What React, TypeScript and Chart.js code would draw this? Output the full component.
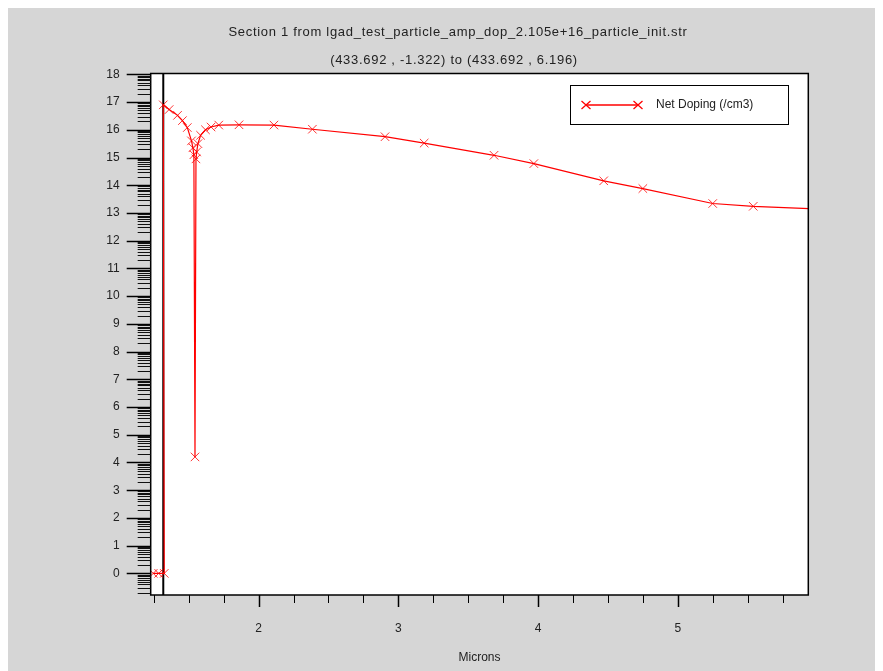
import React, { useEffect, useRef } from "react";
import { Chart, registerables } from "chart.js";

Chart.register(...registerables);

const titleText = "Section 1 from lgad_test_particle_amp_dop_2.105e+16_particle_init.str";
const subtitleText = "(433.692 , -1.322) to (433.692 , 6.196)";
const xAxisTitle = "Microns";
const seriesName = "Net Doping (/cm3)";

// Position along the section (microns)
const xValues = [
  1.246, 1.285, 1.325, 1.318, 1.36, 1.42, 1.455, 1.49, 1.52, 1.53, 1.537, 1.545,
  1.552, 1.557, 1.566, 1.585, 1.62, 1.66, 1.715, 1.86, 2.11, 2.385, 2.905, 3.185,
  3.685, 3.97, 4.47, 4.75, 5.25, 5.54, 6.2,
];
// log10 of |Net Doping|
const yValues = [
  0, 0, 0, 16.9, 16.73, 16.52, 16.33, 16.08, 15.6, 15.35, 15.1, 4.2,
  14.95, 15.2, 15.5, 15.8, 16.0, 16.1, 16.17, 16.18, 16.17, 16.02, 15.75, 15.52,
  15.08, 14.78, 14.16, 13.88, 13.34, 13.24, 13.1,
];

const boundaryX = [1.318, 1.318];
const boundaryY = [-2, 20];

const xMajorTicks = [2, 3, 4, 5];
const xMinorTicks = [1.25, 1.5, 1.75, 2.25, 2.5, 2.75, 3.25, 3.5, 3.75, 4.25, 4.5, 4.75, 5.25, 5.5, 5.75];
const yMajorTicks = [0, 1, 2, 3, 4, 5, 6, 7, 8, 9, 10, 11, 12, 13, 14, 15, 16, 17, 18];
const decadeSubTicks = [2, 3, 4, 5, 6, 7, 8, 9];

const FONT = "'Liberation Sans', Arial, sans-serif";

export default function App() {
  const ref = useRef<HTMLCanvasElement | null>(null);

  useEffect(() => {
    const canvas = ref.current;
    if (!canvas) return;

    const decorPlugin = {
      id: "decor",
      beforeDraw(chart: any) {
        const { ctx, chartArea: a } = chart;
        ctx.save();
        ctx.fillStyle = "#d6d6d6";
        ctx.fillRect(0, 0, chart.width, chart.height);
        ctx.fillStyle = "#ffffff";
        ctx.fillRect(a.left, a.top, a.right - a.left, a.bottom - a.top);
        ctx.restore();
      },
      afterDraw(chart: any) {
        const { ctx, chartArea: a } = chart;
        const xs = chart.scales.x;
        const ys = chart.scales.y;
        ctx.save();
        // plot frame
        ctx.strokeStyle = "#000";
        ctx.lineWidth = 1.5;
        ctx.strokeRect(a.left, a.top, a.right - a.left, a.bottom - a.top);
        // y ticks
        ctx.lineWidth = 1.5;
        ctx.strokeStyle = "#000";
        yMajorTicks.forEach((v) => {
          const py = Math.round(ys.getPixelForValue(v)) + 0.5;
          ctx.beginPath();
          ctx.moveTo(a.left - 24, py);
          ctx.lineTo(a.left, py);
          ctx.stroke();
        });
        ctx.lineWidth = 1;
        ctx.strokeStyle = "#111";
        const minorVals: number[] = [];
        [-1, ...yMajorTicks].forEach((v) => {
          decadeSubTicks.forEach((k) => minorVals.push(v + Math.log10(k)));
        });
        minorVals.forEach((val) => {
          if (val > ys.max || val < ys.min) return;
          const py = Math.round(ys.getPixelForValue(val)) + 0.5;
          ctx.beginPath();
          ctx.moveTo(a.left - 13, py);
          ctx.lineTo(a.left, py);
          ctx.stroke();
        });
        // x ticks
        ctx.lineWidth = 1.5;
        ctx.strokeStyle = "#000";
        xMajorTicks.forEach((v) => {
          const px = Math.round(xs.getPixelForValue(v)) + 0.5;
          ctx.beginPath();
          ctx.moveTo(px, a.bottom);
          ctx.lineTo(px, a.bottom + 12);
          ctx.stroke();
        });
        ctx.lineWidth = 1;
        xMinorTicks.forEach((v) => {
          const px = Math.round(xs.getPixelForValue(v)) + 0.5;
          ctx.beginPath();
          ctx.moveTo(px, a.bottom);
          ctx.lineTo(px, a.bottom + 8);
          ctx.stroke();
        });
        // titles
        ctx.fillStyle = "#222";
        ctx.font = `13px ${FONT}`;
        (ctx as any).letterSpacing = "0.7px";
        ctx.textAlign = "center";
        ctx.textBaseline = "middle";
        ctx.fillText(titleText, 450, 24);
        ctx.fillText(subtitleText, 446, 52);
        (ctx as any).letterSpacing = "0px";
        // legend
        const lx = 562, ly = 77, lw = 218, lh = 39;
        ctx.fillStyle = "#fff";
        ctx.fillRect(lx, ly, lw, lh);
        ctx.strokeStyle = "#000";
        ctx.lineWidth = 1;
        ctx.strokeRect(lx + 0.5, ly + 0.5, lw, lh);
        const cy = ly + 20;
        ctx.strokeStyle = "rgb(255,0,0)";
        ctx.lineWidth = 1.3;
        ctx.beginPath();
        ctx.moveTo(lx + 16, cy);
        ctx.lineTo(lx + 68, cy);
        ctx.stroke();
        [lx + 16, lx + 68].forEach((mx) => {
          ctx.beginPath();
          ctx.moveTo(mx - 4.5, cy - 4);
          ctx.lineTo(mx + 4.5, cy + 4);
          ctx.moveTo(mx - 4.5, cy + 4);
          ctx.lineTo(mx + 4.5, cy - 4);
          ctx.stroke();
        });
        ctx.fillStyle = "#222";
        ctx.font = `12px ${FONT}`;
        ctx.textAlign = "left";
        ctx.fillText(seriesName, lx + 86, cy);
        ctx.restore();
      },
    };

    const chart = new Chart(canvas, {
      type: "line",
      data: {
        datasets: [
          {
            label: seriesName,
            data: xValues.map((x, i) => ({ x, y: yValues[i] })),
            borderColor: "rgb(255,0,0)",
            borderWidth: 1.2,
            pointStyle: "crossRot",
            pointRadius: 6,
            pointBorderColor: "rgba(255,0,0,0.8)",
            pointBorderWidth: 1,
            fill: false,
            tension: 0,
            order: 1,
          },
          {
            label: "boundary",
            data: boundaryX.map((x, i) => ({ x, y: boundaryY[i] })),
            borderColor: "#000",
            borderWidth: 2,
            pointRadius: 0,
            fill: false,
            order: 2,
          },
        ],
      },
      options: {
        responsive: false,
        animation: false,
        devicePixelRatio: 1,
        layout: { padding: { top: 65.5, right: 66.7, left: 0, bottom: 0 } },
        plugins: {
          legend: { display: false },
          title: { display: false },
          tooltip: { enabled: false },
        },
        scales: {
          x: {
            type: "linear",
            min: 1.228,
            max: 5.934,
            grid: { display: false },
            border: { display: false },
            afterBuildTicks: (s: any) => {
              s.ticks = xMajorTicks.map((v) => ({ value: v }));
            },
            afterFit: (s: any) => {
              s.height = 76;
            },
            ticks: {
              autoSkip: false,
              maxRotation: 0,
              padding: 18,
              color: "#222",
              font: { family: FONT, size: 12 },
              callback: (v: any) => String(v),
            },
            title: {
              display: true,
              text: xAxisTitle,
              color: "#222",
              font: { family: FONT, size: 12 },
              padding: { top: 0, bottom: 6 },
            },
          },
          y: {
            type: "linear",
            min: -0.78,
            max: 18.03,
            grid: { display: false },
            border: { display: false },
            afterBuildTicks: (s: any) => {
              s.ticks = yMajorTicks.map((v) => ({ value: v }));
            },
            afterFit: (s: any) => {
              s.width = 142.7;
            },
            ticks: {
              autoSkip: false,
              padding: 23,
              color: "#222",
              font: { family: FONT, size: 12 },
              callback: (v: any) => String(v),
            },
          },
        },
      },
      plugins: [decorPlugin],
    });

    return () => chart.destroy();
  }, []);

  return <canvas ref={ref} width={867} height={663} style={{ display: "block" }} />;
}
